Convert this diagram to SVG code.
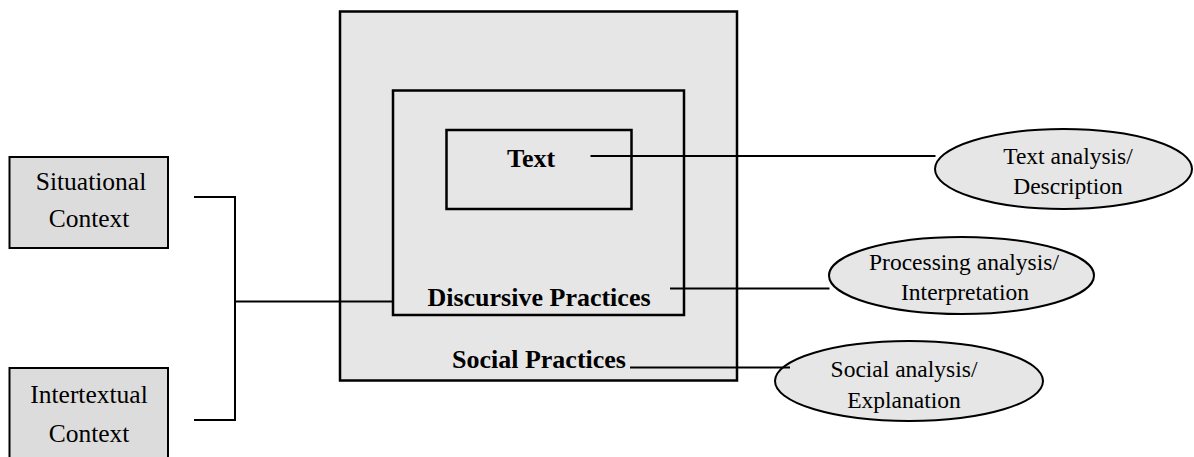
<svg xmlns="http://www.w3.org/2000/svg" width="1194" height="457" viewBox="0 0 1194 457">
  <style>
    .ctx { fill: #dcdcdc; stroke: #000; stroke-width: 2; }
    .box { fill: #e6e6e6; stroke: #000; stroke-width: 2.5; }
    .oval { fill: #e6e6e6; stroke: #000; stroke-width: 2; }
    .lbl { font-family: "Liberation Serif", "Times New Roman", serif; font-size: 25.5px; fill: #000; text-anchor: middle; }
    .bold { font-weight: bold; font-size: 26px; }
    .olbl { font-family: "Liberation Serif", "Times New Roman", serif; font-size: 23.5px; fill: #000; text-anchor: middle; }
    .wire { fill: none; stroke: #000; stroke-width: 2; }
  </style>

  <rect width="1194" height="457" fill="#fff"/>

  <!-- nested practice frames -->
  <g id="social-practices">
    <rect class="box" x="340" y="11.5" width="397" height="369"/>
    <text class="lbl bold" x="539" y="368">Social Practices</text>
  </g>
  <g id="discursive-practices">
    <rect class="box" x="393" y="90.5" width="291" height="224.5"/>
    <text class="lbl bold" x="539" y="306">Discursive Practices</text>
  </g>
  <g id="text">
    <rect class="box" x="446.5" y="130" width="185" height="79"/>
    <text class="lbl bold" x="531" y="167">Text</text>
  </g>

  <!-- context boxes -->
  <g id="situational-context">
    <rect class="ctx" x="9.5" y="157" width="158.5" height="91"/>
    <text class="lbl" x="91" y="190">Situational</text>
    <text class="lbl" x="89" y="226.5">Context</text>
  </g>
  <g id="intertextual-context">
    <rect class="ctx" x="9.5" y="368" width="158.5" height="100"/>
    <text class="lbl" x="89" y="403">Intertextual</text>
    <text class="lbl" x="89" y="441.5">Context</text>
  </g>

  <!-- analysis ovals -->
  <g id="text-analysis">
    <ellipse class="oval" cx="1063.5" cy="169" rx="128.5" ry="40"/>
    <text class="olbl" x="1068" y="164">Text analysis/</text>
    <text class="olbl" x="1068" y="193.5">Description</text>
  </g>
  <g id="processing-analysis">
    <ellipse class="oval" cx="961.5" cy="275.5" rx="132.5" ry="38.5"/>
    <text class="olbl" x="964" y="270">Processing analysis/</text>
    <text class="olbl" x="965" y="299.5">Interpretation</text>
  </g>
  <g id="social-analysis">
    <ellipse class="oval" cx="909" cy="381" rx="134" ry="40"/>
    <text class="olbl" x="904" y="376.5">Social analysis/</text>
    <text class="olbl" x="904" y="408">Explanation</text>
  </g>

  <!-- connectors -->
  <g id="connectors">
    <path class="wire" d="M194 197 H235 V420 H194"/>
    <path class="wire" d="M235 301.5 H393"/>
    <path class="wire" d="M590.5 156 H935.5"/>
    <path class="wire" d="M670 288.5 H829.5"/>
    <path class="wire" d="M630 367.5 H790"/>
  </g>
</svg>
